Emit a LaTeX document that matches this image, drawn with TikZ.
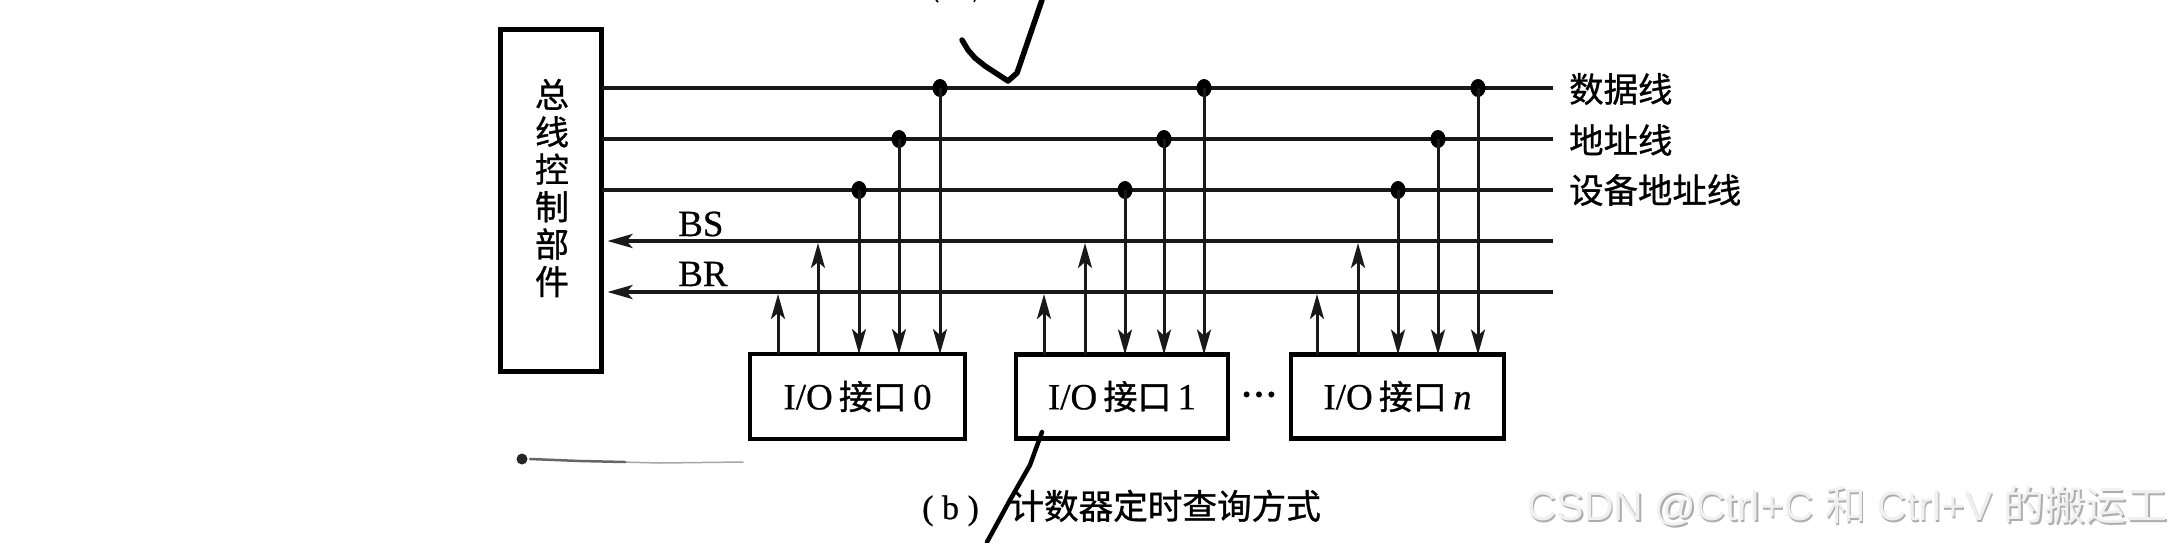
\documentclass[tikz,border=0pt]{standalone}
\usepackage{fontspec}
\setmainfont[FakeBold=0.6]{Liberation Serif}
\newfontfamily\cjk[FakeBold=0.9]{Noto Sans CJK SC}
\newfontfamily\wmcjk{Noto Sans CJK SC}
\newfontfamily\wm{Liberation Sans}
\usetikzlibrary{arrows.meta,calc,shapes.geometric}
\tikzset{
  x=1pt,y=-1pt,
  busline/.style={line width=3.6pt,black!90},
  tap/.style={line width=3pt,black!90},
  arr/.style={-{Stealth[length=25pt,width=14pt,inset=6pt]}},
  dotn/.style={ellipse,fill=black,draw=none,minimum width=15pt,minimum height=18pt,inner sep=0pt},
  iobox/.style={draw,line width=4.5pt,outer sep=0pt,anchor=north west,inner sep=0pt,font=\fontsize{37}{37}\selectfont},
  lab/.style={anchor=west,inner sep=0pt,font=\cjk\fontsize{34.4}{34}\selectfont},
  sig/.style={anchor=west,inner sep=0pt,font=\fontsize{37}{37}\selectfont},
  hand/.style={line width=5.5pt,line cap=round,line join=round,black}
}
\newcommand{\ioname}[1]{I/O\,{\cjk\fontsize{34}{34}\selectfont 接口}\,#1}
\begin{document}
\begin{tikzpicture}
\useasboundingbox (0,0) rectangle (2172,542);
\fill[white] (0,0) rectangle (2172,542);
% controller
\node[draw,line width=4.5pt,outer sep=0pt,minimum width=101pt,minimum height=342pt,anchor=north west,inner sep=0pt] (ctl) at (500.5,29.5) {};
\node[inner sep=0pt,align=center,font=\cjk\fontsize{34}{37.4}\selectfont] (ctltxt) at (552,188) {总\\线\\控\\制\\部\\件};
% I/O boxes
\node[iobox,minimum width=215pt,minimum height=85pt] (io0) at (750,354) {\ioname{0}};
\node[iobox,minimum width=212pt,minimum height=84pt] (io1) at (1016,354.5) {\ioname{1}};
\node[iobox,minimum width=213pt,minimum height=84pt] (ion) at (1291,354.5) {\ioname{\textit{n}}};
\node[inner sep=0pt,font=\fontsize{24}{24}\selectfont] (dots) at (1259,397) {•\kern4pt•\kern4pt•};
% bus ends
\coordinate (dE) at (1553,88);
\coordinate (aE) at (1553,139);
\coordinate (sE) at (1553,190);
\coordinate (bsE) at (1553,241);
\coordinate (brE) at (1553,292);
% buses
\draw[busline] (dE) -- (dE -| ctl.east);
\draw[busline] (aE) -- (aE -| ctl.east);
\draw[busline] (sE) -- (sE -| ctl.east);
\draw[busline,arr] (bsE) -- ($(bsE -| ctl.east)+(6,0)$);
\draw[busline,arr] (brE) -- ($(brE -| ctl.east)+(6,0)$);
% junction dots
\node[dotn] (d0) at (940,88) {};
\node[dotn] (a0) at (899,139) {};
\node[dotn] (s0) at (859,190) {};
\node[dotn] (d1) at (1204,88) {};
\node[dotn] (a1) at (1164,139) {};
\node[dotn] (s1) at (1125,190) {};
\node[dotn] (dn) at (1478,88) {};
\node[dotn] (an) at (1438,139) {};
\node[dotn] (sn) at (1398,190) {};
% taps down
\foreach \n/\b in {d0/io0,a0/io0,s0/io0,d1/io1,a1/io1,s1/io1,dn/ion,an/ion,sn/ion}
  \draw[tap,arr] (\n.center) -- (\n.center |- \b.north);
% request and status risers
\coordinate (r0) at (778,294);
\coordinate (q0) at (818,243);
\coordinate (r1) at (1044,294);
\coordinate (q1) at (1085,243);
\coordinate (rn) at (1317,294);
\coordinate (qn) at (1358,243);
\foreach \n/\b in {r0/io0,q0/io0,r1/io1,q1/io1,rn/ion,qn/ion}
  \draw[tap,arr] (\n |- \b.north) -- (\n);
% labels
\node[lab] (l1) at (1569,89) {数据线};
\node[lab] (l2) at (1569,140) {地址线};
\node[lab] (l3) at (1569,190) {设备地址线};
\node[sig] (bs) at (678,224) {BS};
\node[sig] (br) at (678,274) {BR};
\node[anchor=west,inner sep=0pt,font=\fontsize{34}{34}\selectfont] (cap) at (922,508) {( b )\hspace{0.9em}{\cjk\fontsize{34.6}{34}\selectfont 计数器定时查询方式}};
% watermark
\node[anchor=west,inner sep=0pt,text=black!32,font=\wm\fontsize{41}{41}\selectfont] (wms) at (1528.5,507.5) {CSDN @Ctrl+C {\wmcjk 和} Ctrl+V {\wmcjk 的搬运工}};
\node[anchor=west,inner sep=0pt,text=black!6,font=\wm\fontsize{41}{41}\selectfont] (wm) at (1527,506) {CSDN @Ctrl+C {\wmcjk 和} Ctrl+V {\wmcjk 的搬运工}};
% handwriting
\draw[hand] (962,40) -- (968,50) -- (975,58) -- (985,66) -- (1008,81) -- (1017,73) -- (1030,35) -- (1042,0);
\draw[hand,line width=4.5pt] (1042,432) -- (1030,465) -- (1010,500) -- (987,542);
\draw[black!35,line width=1.5pt,line cap=round] (620,462) -- (660,463) -- (743,462);
\draw[black!60,line width=2.5pt,line cap=round] (530,459) -- (580,461) -- (625,462);
\fill[black!85] (522,459) circle (5.5pt);
\draw[black,line width=1.5pt] (936,0) -- (938,2);
\draw[black,line width=1.5pt] (975,0) -- (974,2);
\end{tikzpicture}
\end{document}
